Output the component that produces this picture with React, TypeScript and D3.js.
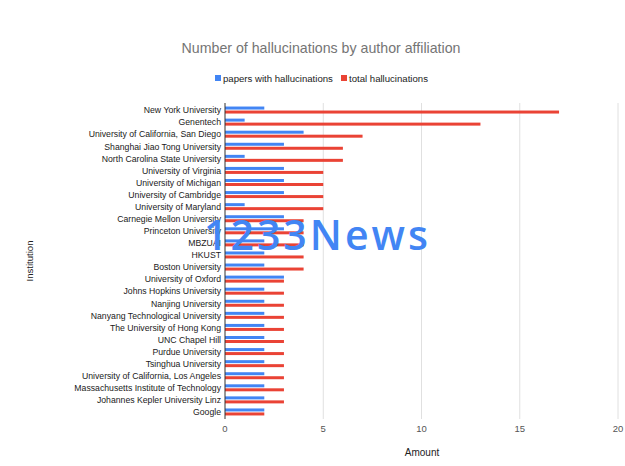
import React from "react";
import * as d3 from "d3";

const institutions = [
  "New York University",
  "Genentech",
  "University of California, San Diego",
  "Shanghai Jiao Tong University",
  "North Carolina State University",
  "University of Virginia",
  "University of Michigan",
  "University of Cambridge",
  "University of Maryland",
  "Carnegie Mellon University",
  "Princeton University",
  "MBZUAI",
  "HKUST",
  "Boston University",
  "University of Oxford",
  "Johns Hopkins University",
  "Nanjing University",
  "Nanyang Technological University",
  "The University of Hong Kong",
  "UNC Chapel Hill",
  "Purdue University",
  "Tsinghua University",
  "University of California, Los Angeles",
  "Massachusetts Institute of Technology",
  "Johannes Kepler University Linz",
  "Google",
];
const papers = [2, 1, 4, 3, 1, 3, 3, 3, 1, 3, 3, 2, 2, 2, 3, 2, 2, 2, 2, 2, 2, 2, 2, 2, 2, 2];
const totals = [17, 13, 7, 6, 6, 5, 5, 5, 5, 4, 4, 4, 4, 4, 3, 3, 3, 3, 3, 3, 3, 3, 3, 3, 3, 2];
const xTicks = [0, 5, 10, 15, 20];
const seriesNames = ["papers with hallucinations", "total hallucinations"];
const colors = ["#4285f4", "#ea4335"];

export default function App() {
  const W = 625, H = 466;
  const left = 225, right = 618, top = 105, bottom = 419;
  const x = d3.scaleLinear().domain([0, 20]).range([left, right]);
  const y = d3.scaleBand<string>().domain(institutions).range([top, bottom]);
  const bw = y.bandwidth();
  const font = "Arial, 'Liberation Sans', sans-serif";
  return (
    <svg width={W} height={H} style={{ position: "absolute", left: 0, top: 0, background: "#fff" }} fontFamily={font}>
      <rect width={W} height={H} fill="#fff" />
      <text x={321} y={53} textAnchor="middle" fontSize={14.2} fill="#757575">
        Number of hallucinations by author affiliation
      </text>
      {/* legend */}
      <g fontSize={9.6} fill="#222">
        <rect x={215} y={75} width={6} height={6} fill={colors[0]} />
        <text x={223} y={81.5}>{seriesNames[0]}</text>
        <rect x={341} y={75} width={6} height={6} fill={colors[1]} />
        <text x={349} y={81.5}>{seriesNames[1]}</text>
      </g>
      {/* grid */}
      {xTicks.map((t) => (
        <g key={t}>
          {t !== 0 && <line x1={x(t)} x2={x(t)} y1={top - 2} y2={bottom} stroke="#e0e0e0" />}
          <text x={x(t)} y={432} textAnchor="middle" fontSize={9.5} fill="#555">{t}</text>
        </g>
      ))}
      {/* bars */}
      {institutions.map((name, i) => {
        const yc = (y(name) as number) + bw / 2;
        return (
          <g key={name}>
            <rect x={x(0)} y={yc - 4.5} width={x(papers[i]) - x(0)} height={3} fill={colors[0]} />
            <rect x={x(0)} y={yc - 0.5} width={x(totals[i]) - x(0)} height={3} fill={colors[1]} />
            <text x={left - 4} y={yc + 2.3} textAnchor="end" fontSize={8.7} fill="#1a1a1a" fontWeight={500}>{name}</text>
          </g>
        );
      })}
      <line x1={x(0)} x2={x(0)} y1={top - 2} y2={bottom} stroke="#333" />
      <text x={422} y={456} textAnchor="middle" fontSize={10} fill="#222">Amount</text>
      <text transform={`translate(33,261) rotate(-90)`} textAnchor="middle" fontSize={9.6} fill="#222">Institution</text>
      {/* watermark */}
      <text x={204} y={250} fontSize={41} fontFamily="'Open Sans', sans-serif" fontWeight={600} letterSpacing={3} fill="#4285f4">
        1233News
      </text>
    </svg>
  );
}
